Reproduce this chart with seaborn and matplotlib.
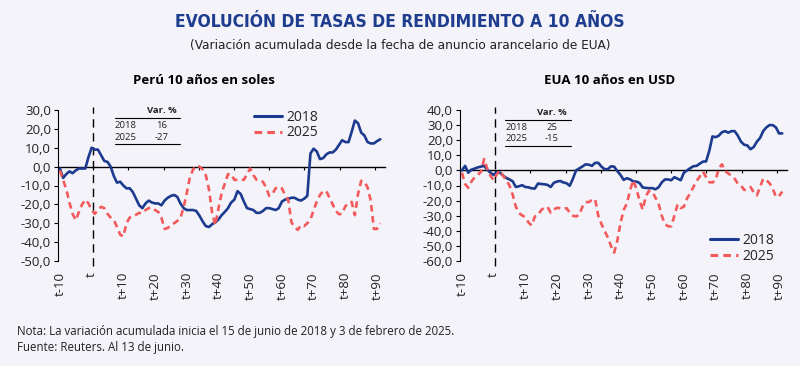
import os
import numpy as np
import pandas as pd
import matplotlib
matplotlib.use("Agg")
import matplotlib.pyplot as plt
import seaborn as sns
from matplotlib import font_manager as fm
from matplotlib.font_manager import FontProperties
from matplotlib.lines import Line2D
from matplotlib.ticker import FuncFormatter

# ---------------- data ----------------
t_index = list(range(-10, 92))
tick_pos = list(range(-10, 91, 10))
tick_labels = ["t-10", "t", "t+10", "t+20", "t+30", "t+40", "t+50", "t+60", "t+70", "t+80", "t+90"]

peru_2018 = [-1, -6, -4, -2.5, -3.5, -2, -1, -1, -1, 5,
             10, 9, 9, 6, 3, 2.5, 0, -5, -8.5, -8,
             -10, -11.5, -11.5, -13.5, -17, -20.5, -22, -19.5, -18, -19,
             -19.5, -19.5, -20.5, -18, -16.5, -15.5, -15, -16, -19.5, -22,
             -23, -23, -23, -23.5, -26, -29, -31.5, -32, -30.5, -29.5,
             -28, -25.7, -24, -22, -19, -17.5, -13, -14.5, -18.5, -22,
             -22.5, -23, -24.5, -24.5, -23.5, -22, -22, -22.5, -23, -22,
             -18.5, -17.5, -17, -16.5, -16.5, -17.5, -18, -17, -15.5, 7,
             9.5, 8, 4, 4.5, 6.5, 7.5, 7.5, 9, 11.5, 14,
             13, 13, 18.5, 24.4, 23, 18, 16.5, 13, 12.3, 12.3,
             13.5, 14.5]
peru_2025 = [-2, -7, -12, -19, -25, -28.4, -24, -20, -17.5, -19.5,
             -23, -25, -23, -21.3, -22, -25, -27, -28.2, -32, -36,
             -37, -30, -27, -26.2, -25.5, -24.5, -24.7, -23, -22, -21.7,
             -23, -24, -27, -33, -32.5, -31, -30, -28.8, -27.3, -21.5,
             -14, -5.5, -1.5, 0.5, 0, -1.5, -4.5, -12, -24.5, -31,
             -22, -14, -9, -4, -4, -7, -7, -7, -7, -4,
             -1, -4.5, -7, -7.5, -8, -11, -15.5, -14.5, -11.5, -10.6,
             -11.5, -15, -17.7, -29.5, -32, -33.5, -31, -31.5, -30, -28,
             -23, -18.5, -15, -13, -13, -16.5, -20, -23.5, -25.2, -25,
             -21, -19.2, -18.7, -25.7, -14.5, -7.5, -8, -11, -18, -33,
             -33, -30]
eua_2018 = [0, 3, -1.5, 0.5, 1.2, 2, 2.5, 3, 0.5, -1.5,
            -3, -1, -1.5, -3.5, -5, -6, -7.2, -11, -10.5, -9.8,
            -11, -11.2, -11.9, -12, -8.7, -9, -9.2, -9.6, -11, -8.2,
            -7.4, -7, -8, -8.5, -10.2, -5.5, 0, 1.3, 2.6, 4,
            3.8, 3, 5, 5, 2.5, 0.8, 0.8, 2.7, 2.5, -0.5,
            -3, -6.3, -5.2, -5.9, -7.3, -7.4, -8.3, -11.3, -11.6, -11.8,
            -11.7, -12.5, -11.2, -8, -6, -6, -6.5, -4.5, -5.5, -6.5,
            -1.5, 0, 1.5, 2.8, 3, 4.5, 5.8, 6, 13, 22.5,
            22, 23, 25.3, 26, 25, 26, 26, 23, 19, 17,
            16.5, 14, 15.5, 19, 21.5, 26, 28.5, 30, 30, 28.5,
            24.5, 24.5]
eua_2025 = [-1.5, -9, -11.5, -7.4, -4.6, -3, -1, 7.5, 1, -3.5,
            -6.5, -2.5, 0, -3.5, -6.5, -10, -16, -24, -28.3, -29.8,
            -31, -34.5, -36.5, -30.5, -29.5, -26.3, -24.6, -24.2, -28, -25.8,
            -24.8, -25, -25.5, -25, -28, -30, -30.5, -29.5, -24, -21,
            -21, -19.5, -19, -30, -35.5, -40, -44.5, -50, -54.5, -46.5,
            -35, -26.3, -22, -13.5, -6.5, -12, -20, -26, -17, -13.5,
            -14, -18, -22, -30, -35.5, -37, -37, -30, -22.5, -25,
            -24, -18.5, -15, -11, -7, -4, -0.8, -4.5, -7.8, -8,
            -6.5, 1.5, 4, -0.5, -2, -3.5, -5.5, -8.8, -10, -13,
            -11.8, -11, -14.5, -16.5, -11, -5.5, -6.5, -8.5, -12, -17.5,
            -17, -14]

years = ["2018", "2025"]
var_peru = ["16", "-27"]
var_eua = ["25", "-15"]

# ---------------- fonts ----------------
names = {f.name for f in fm.fontManager.ttflist}
BODY = "Open Sans" if "Open Sans" in names else "DejaVu Sans"


def narrow_font(bold):
    best = None
    for f in fm.fontManager.ttflist:
        key = (f.name + " " + os.path.basename(f.fname)).lower()
        if ("narrow" in key or "condensed" in key) and f.style == "normal":
            w = f.weight if isinstance(f.weight, int) else (700 if "bold" in str(f.weight) else 400)
            if bold and w >= 600 or (not bold and 350 <= w <= 500):
                if best is None or "liberation" in key:
                    best = f.fname
    if best:
        return FontProperties(fname=best)
    return FontProperties(family=BODY, weight="bold" if bold else "normal")


sns.set_theme(style="white")
plt.rcParams["font.family"] = [BODY, "DejaVu Sans"]

BG = "#F3F3F9"
BLUE = "#1C3A8E"
RED = "#F25A5C"
TITLE_C = "#1F3D8F"
TXT = "#222222"
DASH = (2.5, 1.7)

fig = plt.figure(figsize=(8, 3.66), dpi=100, facecolor=BG)
renderer = fig.canvas.get_renderer()


def fx(x):
    return x / 800


def fy(y):
    return 1 - y / 366


def fit_text(x, y, s, width_px, size, **kw):
    txt = fig.text(x, y, s, fontsize=size, **kw)
    w = txt.get_window_extent(renderer=renderer).width
    if w > 0:
        txt.set_fontsize(size * width_px / w)
    return txt


H = (261 - 110) / 366
ax1 = fig.add_axes([fx(58), fy(261), (385 - 58) / 800, H])
ax2 = fig.add_axes([fx(460), fy(261), (787 - 460) / 800, H])

fmt = FuncFormatter(lambda v, p: f"{v:.1f}".replace(".", ","))
zero_ticks = np.arange(0.5, 92, 11.1)

panels = [
    (ax1, peru_2018, peru_2025, (-50, 30), 10),
    (ax2, eua_2018, eua_2025, (-60, 40), 10),
]

for ax, s18, s25, ylim, step in panels:
    ax.set_facecolor(BG)
    df = pd.DataFrame({
        "t": t_index * 2,
        "v": s18 + s25,
        "serie": ["2018"] * len(t_index) + ["2025"] * len(t_index),
    })
    sns.lineplot(data=df, x="t", y="v", hue="serie", style="serie",
                 palette={"2018": BLUE, "2025": RED},
                 dashes={"2018": "", "2025": DASH},
                 linewidth=1.9, legend=False, ax=ax, zorder=3)
    ax.set_xlim(-10.6, 92.5)
    ax.set_ylim(*ylim)
    ax.set_xlabel("")
    ax.set_ylabel("")
    for sp in ["top", "right", "bottom"]:
        ax.spines[sp].set_visible(False)
    ax.spines["left"].set_color("black")
    ax.spines["left"].set_linewidth(0.8)
    ax.set_yticks(np.arange(ylim[0], ylim[1] + 0.1, step))
    ax.yaxis.set_major_formatter(fmt)
    ax.tick_params(axis="y", left=True, length=3, width=0.8, color="black",
                   labelsize=9.5, labelcolor=TXT, pad=2)
    ax.set_xticks(tick_pos)
    ax.set_xticklabels(tick_labels, rotation=90)
    ax.tick_params(axis="x", bottom=False, length=0, labelsize=9.5,
                   labelcolor=TXT, pad=8)
    # zero line with small ticks
    zfrac = (0 - ylim[0]) / (ylim[1] - ylim[0])
    sec = ax.secondary_xaxis(zfrac)
    for sp in sec.spines.values():
        sp.set_linewidth(1.0)
        sp.set_color("black")
    sec.set_xticks(zero_ticks)
    sec.set_xticklabels([])
    sec.tick_params(axis="x", which="both", length=2.5, width=0.8, color="black",
                    direction="out", labelbottom=False, labeltop=False,
                    bottom=True, top=False)
    # dashed event line
    ax.axvline(0.5, ymin=-0.03, ymax=1.02, clip_on=False, color="black",
               lw=1.0, linestyle=(0, (6, 4)), zorder=2)
    ax.grid(False)

# legends
handles = [Line2D([], [], color=BLUE, lw=2.2),
           Line2D([], [], color=RED, lw=2.2, linestyle=(0, DASH))]
ax1.legend(handles, years, frameon=False, fontsize=10, handlelength=2.0,
           handletextpad=0.35, labelspacing=0.05, loc="upper left",
           bbox_to_anchor=(0.565, 1.075), borderpad=0.3)
ax2.legend(handles, years, frameon=False, fontsize=10, handlelength=2.0,
           handletextpad=0.35, labelspacing=0.05, loc="upper left",
           bbox_to_anchor=(0.73, 0.26), borderpad=0.3)


# inset tables
def table(x0, x1, xc, y_head, y_l1, y_r1, y_r2, y_l2, vals):
    fig.text(fx(xc), fy(y_head), "Var. %", ha="center", va="center",
             fontsize=6.8, fontweight="bold", color=TXT)
    for yy in (y_l1, y_l2):
        fig.add_artist(Line2D([fx(x0), fx(x1)], [fy(yy), fy(yy)],
                              transform=fig.transFigure, color="black", lw=0.8))
    for yr, val, yy in zip(years, vals, (y_r1, y_r2)):
        fig.text(fx(x0), fy(yy), yr, ha="left", va="center", fontsize=6.8, color=TXT)
        fig.text(fx(xc), fy(yy), val, ha="center", va="center", fontsize=6.8, color=TXT)


table(115, 180, 162, 110.5, 118, 126, 137, 144, var_peru)
table(505, 571, 552, 112.5, 119.5, 128, 138.5, 146, var_eua)

# titles
fit_text(0.5, fy(22), "EVOLUCIÓN DE TASAS DE RENDIMIENTO A 10 AÑOS", 450, 14.5,
         ha="center", va="center", color=TITLE_C, fontproperties=narrow_font(True))
fit_text(0.5, fy(46), "(Variación acumulada desde la fecha de anuncio arancelario de EUA)", 420, 10.2,
         ha="center", va="center", color=TXT, fontproperties=narrow_font(False))
fig.text(fx(204), fy(80), "Perú 10 años en soles", ha="center", va="center",
         fontsize=9.5, fontweight="bold", color="black")
fig.text(fx(610), fy(80), "EUA 10 años en USD", ha="center", va="center",
         fontsize=9.5, fontweight="bold", color="black")

# notes
fig.text(fx(17), fy(331), "Nota: La variación acumulada inicia el 15 de junio de 2018 y 3 de febrero de 2025.",
         ha="left", va="center", fontsize=8.3, color=TXT)
fig.text(fx(17), fy(347), "Fuente: Reuters. Al 13 de junio.",
         ha="left", va="center", fontsize=8.3, color=TXT)

fig.savefig("out.png", dpi=100, facecolor=BG)
